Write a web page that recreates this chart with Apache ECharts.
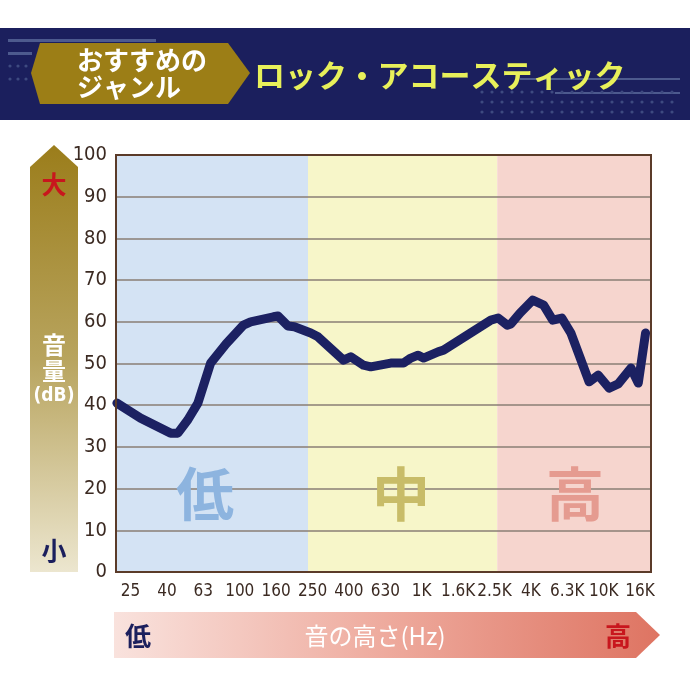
<!DOCTYPE html>
<html><head><meta charset="utf-8">
<script src="https://cdn.jsdelivr.net/npm/echarts@6/dist/echarts.min.js"></script>
<style>html,body{margin:0;padding:0;background:#fff}#c{width:690px;height:690px}</style>
</head><body><div id="c"></div>
<script>
// frequency tick labels (one every 2/3 octave)
const freqLabels = ['25','40','63','100','160','250','400','630','1K','1.6K','2.5K','4K','6.3K','10K','16K'];
// curve vertices: x in 1/3-octave band index (0 = 25Hz), y in dB
const bandIdx = [-0.75, 0.55, 2.2, 2.6, 3.15, 3.7, 4.4, 5.25, 6.2, 6.6, 7.85, 8.1, 8.65, 9.0, 9.9, 10.3, 11.7, 12.1, 12.8, 13.2, 14.3, 15.0, 15.4, 15.8, 16.1, 16.9, 17.2, 19.8, 20.2, 20.7, 20.9, 21.4, 22.1, 22.7, 23.2, 23.7, 24.2, 25.2, 25.7, 26.3, 26.8, 27.5, 27.9, 28.3];
const dbValues = [40.5, 36.9, 33.3, 33.3, 36.5, 40.5, 50.1, 54.7, 59.2, 60.0, 61.2, 61.4, 59.0, 58.8, 57.3, 56.4, 50.8, 51.6, 49.6, 49.2, 50.1, 50.1, 51.3, 52.0, 51.3, 52.8, 53.2, 60.4, 60.9, 59.2, 59.5, 62.1, 65.2, 64.0, 60.4, 60.9, 57.3, 45.6, 47.2, 44.1, 45.1, 48.9, 45.3, 57.3];
// range zones (low / mid / high) in band index
const zoneNames = ['低','中','高'];
const zoneEdges = [-0.8, 9.75, 20.15, 28.6];

const chart = echarts.init(document.getElementById('c'));
const numFont = '"DejaVu Sans Condensed"';
const jpFont = '"Noto Sans CJK JP",sans-serif';

const gfx = [];
// header
gfx.push({type:'rect', shape:{x:0,y:28,width:690,height:92}, style:{fill:'#1b1f5d'}, z:0});
gfx.push({type:'rect', shape:{x:8,y:39,width:148,height:3}, style:{fill:'#4d5a8e'}, z:1});
gfx.push({type:'rect', shape:{x:8,y:52,width:24,height:3}, style:{fill:'#4d5a8e'}, z:1});
gfx.push({type:'rect', shape:{x:520,y:78,width:160,height:2}, style:{fill:'#4d5a8e'}, z:1});
gfx.push({type:'rect', shape:{x:555,y:92,width:125,height:2}, style:{fill:'#4d5a8e'}, z:1});
for (let r=0;r<3;r++) for (let c=0;c<20;c++) gfx.push({type:'circle', shape:{cx:482+c*10,cy:92+r*10,r:1.6}, style:{fill:'#3e4a80'}, z:1});
for (let r=0;r<2;r++) for (let c=0;c<3;c++) gfx.push({type:'circle', shape:{cx:10+c*8,cy:66+r*13,r:1.6}, style:{fill:'#3e4a80'}, z:1});
gfx.push({type:'polygon', shape:{points:[[40,43],[228,43],[250,73],[228,104],[40,104],[31,73]]}, style:{fill:'#9c7e16'}, z:2});
gfx.push({type:'text', style:{text:'おすすめの', x:77, y:60, fill:'#fff', font:'bold 26px '+jpFont, textVerticalAlign:'middle'}, z:3});
gfx.push({type:'text', style:{text:'ジャンル', x:77, y:87, fill:'#fff', font:'bold 26px '+jpFont, textVerticalAlign:'middle'}, z:3});
gfx.push({type:'text', style:{text:'ロック・アコースティック', x:254, y:75, fill:'#e8f05a', font:'bold 31px '+jpFont, textVerticalAlign:'middle', textShadowColor:'#05061a', textShadowOffsetX:2, textShadowOffsetY:2, textShadowBlur:0}, z:3});
// left arrow (volume)
gfx.push({type:'polygon', shape:{points:[[30,167],[54,145],[78,167],[78,572],[30,572]]},
  style:{fill:new echarts.graphic.LinearGradient(0,0,0,1,[{offset:0,color:'#9b7d1b'},{offset:0.5,color:'#b8a45e'},{offset:1,color:'#ece6cf'}])}, z:1});
gfx.push({type:'text', style:{text:'大', x:54, y:184, fill:'#c8161d', font:'bold 25px '+jpFont, textAlign:'center', textVerticalAlign:'middle'}, z:2});
gfx.push({type:'text', style:{text:'小', x:54, y:550, fill:'#1b1f5d', font:'bold 25px '+jpFont, textAlign:'center', textVerticalAlign:'middle'}, z:2});
gfx.push({type:'text', style:{text:'音', x:54, y:345, fill:'#fff', font:'bold 24px '+jpFont, textAlign:'center', textVerticalAlign:'middle'}, z:2});
gfx.push({type:'text', style:{text:'量', x:54, y:371, fill:'#fff', font:'bold 24px '+jpFont, textAlign:'center', textVerticalAlign:'middle'}, z:2});
gfx.push({type:'text', style:{text:'(dB)', x:54, y:396, fill:'#fff', font:'bold 19px '+numFont, textAlign:'center', textVerticalAlign:'middle'}, z:2});
// bottom arrow (frequency)
gfx.push({type:'polygon', shape:{points:[[114,612],[636,612],[660,635],[636,658],[114,658]]},
  style:{fill:new echarts.graphic.LinearGradient(0,0,1,0,[{offset:0,color:'#f9e2dd'},{offset:0.5,color:'#eeaa9d'},{offset:1,color:'#de7462'}])}, z:1});
gfx.push({type:'text', style:{text:'低', x:138, y:636, fill:'#1b1f5d', font:'bold 26px '+jpFont, textAlign:'center', textVerticalAlign:'middle'}, z:2});
gfx.push({type:'text', style:{text:'高', x:618, y:636, fill:'#c8161d', font:'bold 26px '+jpFont, textAlign:'center', textVerticalAlign:'middle'}, z:2});
gfx.push({type:'text', style:{text:'音の高さ(Hz)', x:375, y:636, fill:'#fff', font:'24px '+jpFont, textAlign:'center', textVerticalAlign:'middle'}, z:2});
// big zone letters
const zoneColors = ['#8db4df','#c8bc68','#e59b90'];
const zoneX = [205, 401, 575];
zoneNames.forEach((n,i)=>gfx.push({type:'text', style:{text:n, x:zoneX[i], y:494, fill:zoneColors[i], font:'bold 58px '+jpFont, textAlign:'center', textVerticalAlign:'middle'}, z:4}));
// plot frame
gfx.push({type:'rect', shape:{x:116,y:155,width:535,height:417}, style:{fill:'none', stroke:'#5b3b29', lineWidth:2}, z:20});

const zoneFill = ['#d4e3f4','#f7f6c9','#f6d5ce'];

chart.setOption({
  animation:false,
  grid:{left:116, top:155, right:39, bottom:118},
  xAxis:{type:'value', min:-0.8, max:28.6, interval:0.2,
    axisLine:{show:false}, axisTick:{show:false}, splitLine:{show:false},
    axisLabel:{margin:11, color:'#3b2a22', fontSize:17, fontFamily:numFont,
      formatter:function(v){const r=Math.round(v); if(Math.abs(v-r)<1e-6 && r>=0 && r%2===0 && r/2<freqLabels.length) return freqLabels[r/2]; return '';}}},
  yAxis:{type:'value', min:0, max:100, interval:10, z:3,
    axisLine:{show:false}, axisTick:{show:false},
    splitLine:{show:true, lineStyle:{color:'#8a7e75', width:1.5}},
    axisLabel:{margin:9, color:'#3b2a22', fontSize:20, fontFamily:numFont}},
  graphic:gfx,
  series:[
    {type:'line', z:0, data:[], silent:true,
      markArea:{silent:true, z:0, itemStyle:{opacity:1},
        data:zoneNames.map((n,i)=>[{xAxis:zoneEdges[i], itemStyle:{color:zoneFill[i]}},{xAxis:zoneEdges[i+1]}])}},
    {type:'line', z:6, showSymbol:false, silent:true,
      data:bandIdx.map((x,i)=>[x,dbValues[i]]),
      lineStyle:{color:'#1c2162', width:9, cap:'round', join:'round'}}
  ]
});
</script></body></html>
